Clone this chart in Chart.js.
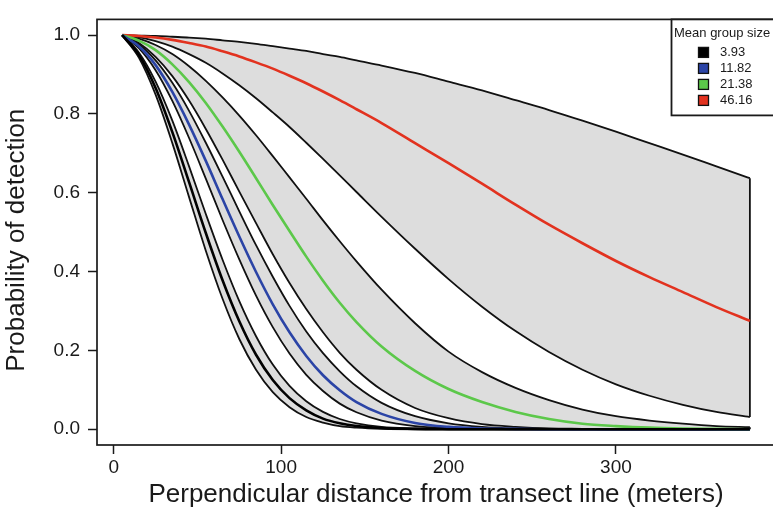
<!DOCTYPE html>
<html><head><meta charset="utf-8">
<script src="https://cdn.jsdelivr.net/npm/chart.js@4.4.1/dist/chart.umd.min.js"></script>
<style>html,body{margin:0;padding:0;background:#fff;overflow:hidden}#wrap{width:780px;height:509px}</style>
</head><body><div id="wrap"><canvas id="c" width="780" height="509"></canvas></div>
<script>
// Perpendicular distance (m) at which curves were read
const distance = [5,15,25,35,45,55,65,75,85,95,105,115,125,135,145,160,180,200,220,240,260,280,300,320,340,360,380];

// Mean group size 3.93
const size393Lower = [1.0,0.943,0.849,0.726,0.589,0.453,0.331,0.229,0.151,0.094,0.056,0.031,0.017,0.008,0.004,0.001,0,0,0,0,0,0,0,0,0,0,0];
const size393Mean  = [1.0,0.950,0.866,0.754,0.627,0.498,0.378,0.274,0.189,0.125,0.079,0.048,0.027,0.015,0.008,0.003,0.001,0,0,0,0,0,0,0,0,0,0];
const size393Upper = [1.0,0.956,0.882,0.783,0.667,0.546,0.430,0.325,0.236,0.164,0.110,0.071,0.044,0.026,0.015,0.006,0.002,0,0,0,0,0,0,0,0,0,0];
// Mean group size 11.82
const size1182Lower = [1.0,0.967,0.911,0.833,0.739,0.636,0.531,0.431,0.339,0.259,0.192,0.138,0.097,0.065,0.043,0.022,0.008,0.003,0.001,0,0,0,0,0,0,0,0];
const size1182Mean  = [1.0,0.972,0.924,0.856,0.773,0.681,0.584,0.489,0.399,0.317,0.246,0.186,0.137,0.099,0.069,0.039,0.016,0.006,0.002,0.001,0,0,0,0,0,0,0];
const size1182Upper = [1.0,0.977,0.936,0.879,0.808,0.727,0.641,0.553,0.467,0.387,0.313,0.248,0.193,0.147,0.109,0.067,0.033,0.015,0.006,0.002,0.001,0,0,0,0,0,0];
// Mean group size 21.38
const size2138Lower = [1.0,0.980,0.945,0.896,0.834,0.762,0.684,0.603,0.523,0.444,0.371,0.305,0.246,0.194,0.151,0.100,0.054,0.028,0.013,0.006,0.002,0.001,0,0,0,0,0];
const size2138Mean  = [1.0,0.986,0.962,0.926,0.881,0.828,0.768,0.704,0.637,0.569,0.503,0.438,0.377,0.321,0.272,0.210,0.148,0.102,0.069,0.044,0.026,0.014,0.008,0.004,0.002,0.001,0.0];
const size2138Upper = [1.0,0.991,0.975,0.952,0.921,0.884,0.842,0.796,0.746,0.693,0.639,0.585,0.530,0.477,0.426,0.354,0.269,0.197,0.145,0.105,0.074,0.050,0.033,0.022,0.014,0.008,0.005];
// Mean group size 46.16
const size4616Lower = [1.0,0.995,0.985,0.971,0.952,0.930,0.903,0.873,0.840,0.804,0.767,0.727,0.686,0.644,0.602,0.539,0.458,0.381,0.311,0.249,0.196,0.151,0.114,0.085,0.062,0.044,0.031];
const size4616Mean  = [1.0,0.998,0.994,0.988,0.980,0.971,0.959,0.946,0.931,0.915,0.897,0.878,0.857,0.835,0.812,0.777,0.726,0.675,0.623,0.570,0.519,0.472,0.427,0.386,0.348,0.310,0.275];
const size4616Upper = [1.0,0.999,0.998,0.996,0.994,0.991,0.987,0.983,0.978,0.972,0.966,0.960,0.952,0.945,0.936,0.923,0.904,0.882,0.860,0.835,0.810,0.783,0.755,0.726,0.697,0.667,0.637];

const groupSizes = ['3.93','11.82','21.38','46.16'];
const groupColors = ['#000000','#2B44A6','#5CC84A','#E2321F'];
const xTickValues = [0,100,200,300];
const yTickValues = [0,0.2,0.4,0.6,0.8,1.0];
const xTitle = 'Perpendicular distance from transect line (meters)';
const yTitle = 'Probability of detection';
const legendTitle = 'Mean group size';

const groups = [
  {lower:size393Lower, mean:size393Mean, upper:size393Upper},
  {lower:size1182Lower, mean:size1182Mean, upper:size1182Upper},
  {lower:size2138Lower, mean:size2138Mean, upper:size2138Upper},
  {lower:size4616Lower, mean:size4616Mean, upper:size4616Upper}
];

const BAND_FILL = '#dddddd';
const toPts = arr => arr.map((v,i)=>({x:distance[i], y:v}));
const datasets = [];
groups.forEach((g,gi)=>{
  const li = datasets.length;
  datasets.push({label:'lower '+groupSizes[gi], data:toPts(g.lower), borderColor:'#111', borderWidth:1.8, pointRadius:0, fill:false, order:1, cubicInterpolationMode:'monotone'});
  datasets.push({label:'upper '+groupSizes[gi], data:toPts(g.upper), borderColor:'#111', borderWidth:1.8, pointRadius:0, backgroundColor:BAND_FILL, fill:{target:li, above:BAND_FILL, below:BAND_FILL}, order:1, cubicInterpolationMode:'monotone'});
  datasets.push({label:groupSizes[gi], data:toPts(g.mean), borderColor:groupColors[gi], borderWidth:2.6, pointRadius:0, fill:false, order:0, cubicInterpolationMode:'monotone'});
  const n = distance.length-1;
  datasets.push({label:'edge '+groupSizes[gi], data:[{x:distance[n],y:g.lower[n]},{x:distance[n],y:g.upper[n]}], borderColor:'#111', borderWidth:1.8, pointRadius:0, fill:false, order:1});
});

const FONT = "'Liberation Sans', Arial, Helvetica, sans-serif";
Chart.defaults.font.family = FONT;
Chart.defaults.color = '#1a1a1a';

const boxPlugin = {
  id:'rbox',
  afterDatasetsDraw(chart){
    const {ctx, chartArea:a} = chart;
    ctx.save();
    ctx.strokeStyle = '#1a1a1a'; ctx.lineWidth = 1.7;
    ctx.strokeRect(a.left, a.top, a.right-a.left, a.bottom-a.top);
    // legend
    const lx = 671.5, ly = a.top, lw = 120, lh = 96;
    ctx.fillStyle = '#fff';
    ctx.fillRect(lx, ly, lw, lh);
    ctx.lineWidth = 1.8;
    ctx.strokeRect(lx, ly, lw, lh);
    ctx.fillStyle = '#1a1a1a';
    ctx.font = "13px " + FONT;
    ctx.textBaseline = 'middle'; ctx.textAlign = 'left';
    ctx.fillText(legendTitle, lx+2.5, ly+14);
    groupSizes.forEach((s,i)=>{
      const cy = ly + 33 + i*16;
      ctx.fillStyle = groupColors[i];
      ctx.fillRect(lx+27, cy-5, 10, 10);
      ctx.lineWidth = 1.3; ctx.strokeStyle = '#111';
      ctx.strokeRect(lx+27, cy-5, 10, 10);
      ctx.fillStyle = '#1a1a1a';
      ctx.fillText(s, lx+48.5, cy+0.5);
    });
    // y axis title
    ctx.translate(17, (a.top + a.bottom)/2 + 8);
    ctx.rotate(-Math.PI/2);
    ctx.font = "26px " + FONT;
    ctx.textAlign = 'center'; ctx.textBaseline = 'middle';
    ctx.fillText(yTitle, 0, 0);
    ctx.restore();
  }
};

new Chart(document.getElementById('c'), {
  type:'line',
  data:{datasets},
  options:{
    responsive:false, animation:false, devicePixelRatio:1,
    layout:{padding:{left:0, top:11, right:5, bottom:0}},
    plugins:{legend:{display:false}, tooltip:{enabled:false}, filler:{drawTime:'beforeDatasetsDraw'}},
    scales:{
      x:{type:'linear', min:-10, max:395,
        afterFit(s){ s.height = 64; },
        afterBuildTicks(s){ s.ticks = xTickValues.map(v=>({value:v})); },
        ticks:{font:{size:19}, padding:2, maxRotation:0, color:'#1a1a1a', callback:v=>String(v)},
        grid:{display:true, drawOnChartArea:false, drawTicks:true, tickLength:9, tickColor:'#1a1a1a', tickWidth:1.5},
        border:{display:false},
        title:{display:true, text:xTitle, font:{size:26, lineHeight:1}, padding:{top:0,bottom:1}, color:'#1a1a1a'}
      },
      y:{type:'linear', min:-0.04, max:1.04,
        afterFit(s){ s.width = 97; },
        afterBuildTicks(s){ s.ticks = yTickValues.map(v=>({value:v})); },
        ticks:{font:{size:19}, padding:8, color:'#1a1a1a', callback:v=>Number(v).toFixed(1)},
        grid:{display:true, drawOnChartArea:false, drawTicks:true, tickLength:9, tickColor:'#1a1a1a', tickWidth:1.5},
        border:{display:false},
        title:{display:false}
      }
    }
  },
  plugins:[boxPlugin]
});
</script>
</body></html>
